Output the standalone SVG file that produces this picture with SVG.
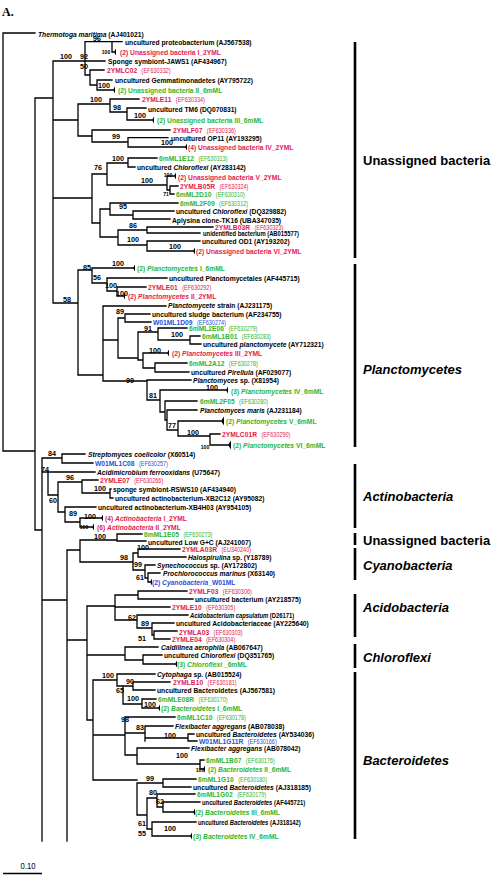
<svg xmlns="http://www.w3.org/2000/svg" width="496" height="875" viewBox="0 0 496 875">
<style>
.br{fill:none;stroke:#000;stroke-width:1.3;stroke-linecap:square}
.cl{fill:#000}
.t{font-family:"Liberation Sans",Arial,sans-serif;font-weight:bold;font-size:7.8px;fill:#000;transform:scale(.86,1)}
.s{font-size:6.8px}
.r{fill:#e31b4f}.g{fill:#2fb52f}.b{fill:#2a4fd8}
.ac{font-size:6.4px;font-weight:normal}
.i{font-style:italic}
.bs{font-family:"Liberation Sans",Arial,sans-serif;font-weight:bold;font-size:7.2px;text-anchor:middle;fill:#000}
.bss{font-size:5px}
.grp{font-family:"Liberation Sans",Arial,sans-serif;font-weight:bold;font-size:13px;fill:#000}
.bar{stroke:#000;stroke-width:2.6}
</style>
<rect width="496" height="875" fill="#fff"/>
<text x="2" y="16" font-family="Liberation Serif,serif" font-weight="bold" font-size="12">A.</text>
<g id="branches">
<path class="br" d="M3 33V451M3 33H35M3 451H35M35 98V530M35 98H53M53 61V303M35 530H42M42 458V841
M53 61H105M85 41.7V75M85 41.7H122M112 41.7V52M112 52H114M85 75H90M90 70V85M90 70H104M90 85H97M97 80V90M97 80H112M97 90H113
M53 120H78M78 104V136M78 104H110M110 99V112M110 99H139M110 112H127M127 108V120M127 108H146M127 120H152M78 136H92M92 130V142M92 130H170M92 142H128M128 137.7V147M128 137.7H168M128 147H185
M53 198H92M92 174V223M92 174H107M107 163V185M107 163H128M128 158V167M128 158H157M128 167H135M107 185H167M167 176V190M167 176H174M167 190H170M170 186V194M170 186H178M170 194H174M92 223H100M100 209V237M100 209H110M110 203V215M110 203H178M110 215H133M133 211V219M133 211H174M133 219H170M100 237H118M118 230V245M118 230H147M147 227V233M147 227H213M147 233H200M118 245H147M147 241V251M147 241H200M147 251H193
M53 303H78M78 270V375M78 270H92M92 268V283M92 268H133M92 283H107M107 278V291M107 278H167M107 291H117M117 287V296M117 287H146M117 296H123
M78 375H103M103 306V381M103 306H166M103 340H118M118 318V358M118 318H125M125 314V322M125 314H150M125 322H151M118 358H138M138 332V360M138 332H158M158 328V340M158 328H187M158 340H190M190 336V344M190 336H200M190 344H201M138 360H143M143 353V368M143 353H167M143 368H155M155 363V372M155 363H187M155 372H189
M103 381H147M147 380V400M147 380H191M147 400H160M160 390V412M160 390H226M160 412H165M165 401V420M165 401H197M165 420H167M167 410V430M167 410H197M167 430H178M178 421V436M178 421H221M178 436H210M210 434V445M210 434H220M210 445H228
M42 458H62M62 454V463M62 454H85M62 463H93M42 472H48M48 472V495M48 472H95M48 495H58M58 482V512M58 482H82M82 480V493M82 480H98M82 493H110M110 489V498M110 489H111M110 498H113M58 512H65M65 507V522M65 507H96M65 522H80M80 518V527M80 518H101M80 527H92
M42 600H67M67 550V841M67 550H80M80 540V562M80 540H117M117 534V541M117 534H142M117 541H146M80 562H133M133 553V570M133 553H138M138 549V557M138 549H180M138 557H186M133 570H145M145 565V578M145 565H155M145 578H148M148 573V582M148 573H160M148 582H150
M67 640H87M87 606V720M87 606H115M115 595V620M115 595H138M138 591V599M138 591H187M138 599H193M115 607H170M115 620H137M137 615V628M137 615H188M137 628H152M152 623V635M152 623H174M152 635H154M154 631V639M154 631H177M154 639H170
M87 655H125M125 647V660M125 647H158M125 660H143M143 655V664M143 655H162M143 664H175
M87 720H93M93 680V780M93 680H117M117 674V686M117 674H155M117 686H123M123 686V704M123 686H133M133 682V690M133 682H170M133 690H155M123 704H142M142 699V708M142 699H156M142 708H158
M93 735H125M125 717V755M125 717H175M125 733H145M145 726V741M145 726H173M145 738H188M188 734V741M188 734H194M188 741H197M125 755H137M137 748V764M137 748H189M137 764H200M200 760V769M200 760H204M200 769H203
M93 780H137M137 783V815M137 783H163M163 779V787M163 779H196M163 787H191M137 815H147M147 798V829M147 798H157M157 794V807M157 794H195M157 807H163M163 802V812M163 802H200M163 812H193M147 829H152M152 822V836M152 822H196M152 836H190"/>
<g class="cl">
<polygon points="114,52 116,48.5 116,55.5"/><polygon points="113,90 115,86.5 115,93.5"/><polygon points="152,120 154,116.5 154,123.5"/><polygon points="185,147 187,143.5 187,150.5"/><polygon points="174,176 176,172.5 176,179.5"/><polygon points="193,251 195,247.5 195,254.5"/><polygon points="133,268 135,264.5 135,271.5"/><polygon points="123,296 125,292.5 125,299.5"/><polygon points="167,353 169,349.5 169,356.5"/><polygon points="226,390 228,386.5 228,393.5"/><polygon points="221,421 224,416.5 224,425.5"/><polygon points="228,445 231,440.5 231,449.5"/><polygon points="101,518 103,514.5 103,521.5"/><polygon points="92,527 94,523.5 94,530.5"/><polygon points="150,582 152,578.5 152,585.5"/><polygon points="175,664 177,660.5 177,667.5"/><polygon points="158,708 160,704.5 160,711.5"/><polygon points="203,769 205,765.5 205,772.5"/><polygon points="193,812 195,808.5 195,815.5"/><polygon points="190,836 192,832.5 192,839.5"/>
</g>
</g>
<g id="support">
<text class="bs" x="66" y="59">100</text><text class="bs" x="97" y="40.5">96</text><text class="bs bss" x="106" y="54">100</text><text class="bs" x="84" y="59">92</text><text class="bs" x="84" y="69">50</text><text class="bs" x="104" y="88">100</text>
<text class="bs" x="96" y="102">100</text><text class="bs" x="117" y="110">98</text><text class="bs" x="140" y="118">100</text><text class="bs" x="116" y="139">99</text><text class="bs" x="167" y="145">100</text>
<text class="bs" x="118" y="161">100</text><text class="bs" x="98" y="170">76</text><text class="bs bss" x="168" y="177">100</text><text class="bs" x="147" y="183">100</text><text class="bs bss" x="166" y="196">71</text>
<text class="bs" x="123" y="209">95</text><text class="bs" x="133" y="228">86</text><text class="bs" x="133" y="242">100</text><text class="bs" x="175" y="249">100</text>
<text class="bs" x="118" y="266">100</text><text class="bs" x="87" y="270">85</text><text class="bs" x="97" y="280">56</text><text class="bs" x="111" y="288">100</text><text class="bs" x="122" y="296">100</text><text class="bs" x="67" y="302">58</text>
<text class="bs" x="120" y="314">89</text><text class="bs" x="148" y="331">91</text><text class="bs" x="177" y="337">100</text><text class="bs" x="155" y="353">100</text>
<text class="bs" x="130" y="383">99</text><text class="bs" x="212" y="390">100</text><text class="bs" x="153" y="398">81</text><text class="bs" x="172" y="428">77</text><text class="bs" x="193" y="435">100</text><text class="bs bss" x="205" y="449">100</text>
<text class="bs" x="52" y="456">84</text><text class="bs" x="45" y="472">74</text><text class="bs" x="70" y="480">96</text><text class="bs" x="100" y="491">100</text><text class="bs" x="53" y="503">60</text><text class="bs" x="73" y="516">89</text><text class="bs" x="90" y="519">100</text><text class="bs bss" x="84" y="529">100</text>
<text class="bs" x="100" y="539">100</text><text class="bs" x="143" y="550">100</text><text class="bs" x="124" y="560">98</text><text class="bs" x="138" y="567">99</text><text class="bs" x="140" y="580">61</text>
<text class="bs" x="132" y="620">62</text><text class="bs" x="145" y="626">89</text><text class="bs" x="142" y="641">51</text>
<text class="bs" x="108" y="678">100</text><text class="bs" x="130" y="684">90</text><text class="bs" x="120" y="693">65</text><text class="bs" x="133" y="701">100</text><text class="bs" x="150" y="707">100</text>
<text class="bs" x="125" y="722">98</text><text class="bs" x="140" y="730">83</text><text class="bs" x="170" y="738">100</text><text class="bs" x="182" y="758">100</text><text class="bs bss" x="200" y="772">100</text>
<text class="bs" x="150" y="781">99</text><text class="bs" x="153" y="795">80</text><text class="bs" x="160" y="804">62</text><text class="bs" x="142" y="826">61</text><text class="bs" x="142" y="836">55</text><text class="bs" x="170" y="831">100</text>
</g>
<g id="leaves">
<g id="L1" transform="translate(38,36.5)"><text class="t"><tspan class="i">Thermotoga maritima</tspan> (AJ401021)</text></g>
<g id="L2" transform="translate(125,44.7)"><text class="t">uncultured proteobacterium (AJ567538)</text></g>
<g id="L3" transform="translate(120,55)"><text class="t r">(2) Unassigned bacteria I_2YML</text></g>
<g id="L4" transform="translate(108,64)"><text class="t">Sponge symbiont-JAWS1 (AF434967)</text></g>
<g id="L5" transform="translate(107,73)"><text class="t r">2YMLC02 <tspan class="ac" dx="3">(EF630332)</tspan></text></g>
<g id="L6" transform="translate(115,83)"><text class="t">uncultured Gemmatimonadetes (AY795722)</text></g>
<g id="L7" transform="translate(118,93)"><text class="t g">(2) Unassigned bacteria II_6mML</text></g>
<g id="L8" transform="translate(142,102)"><text class="t r">2YMLE11 <tspan class="ac" dx="3">(EF630334)</tspan></text></g>
<g id="L9" transform="translate(148,111.5)"><text class="t">uncultured TM6 (DQ070831)</text></g>
<g id="L10" transform="translate(157,122.5)"><text class="t g">(2) Unassigned bacteria III_6mML</text></g>
<g id="L11" transform="translate(173,133)"><text class="t r">2YMLF07 <tspan class="ac" dx="3">(EF630336)</tspan></text></g>
<g id="L12" transform="translate(171,140.7)"><text class="t">uncultured OP11 (AY193295)</text></g>
<g id="L13" transform="translate(188,150)"><text class="t r">(4) Unassigned bacteria IV_2YML</text></g>
<g id="L14" transform="translate(159,161)"><text class="t g">6mML1E12 <tspan class="ac" dx="3">(EF630313)</tspan></text></g>
<g id="L15" transform="translate(137,169.7)"><text class="t">uncultured <tspan class="i">Chloroflexi</tspan> (AY283142)</text></g>
<g id="L16" transform="translate(178,179.7)"><text class="t r">(2) Unassigned bacteria V_2YML</text></g>
<g id="L17" transform="translate(180,189)"><text class="t r">2YMLB05R <tspan class="ac" dx="3">(EF630324)</tspan></text></g>
<g id="L18" transform="translate(176,197)"><text class="t g">6mML2D10 <tspan class="ac" dx="3">(EF630310)</tspan></text></g>
<g id="L19" transform="translate(180,206)"><text class="t g">6mML2F09 <tspan class="ac" dx="3">(EF630312)</tspan></text></g>
<g id="L20" transform="translate(176,214)"><text class="t">uncultured <tspan class="i">Chloroflexi</tspan> (DQ329882)</text></g>
<g id="L21" transform="translate(172,222.5)"><text class="t">Aplysina clone-TK16 (UBA347035)</text></g>
<g id="L22" transform="translate(215,230)"><text class="t r">2YMLB03R <tspan class="ac" dx="3">(EF630323)</tspan></text></g>
<g id="L23" transform="translate(203,236)"><text class="t s">unidentified bacterium (AB015577)</text></g>
<g id="L24" transform="translate(202,244)"><text class="t">uncultured OD1 (AY193202)</text></g>
<g id="L25" transform="translate(196,254)"><text class="t r">(2) Unassigned bacteria VI_2YML</text></g>
<g id="L26" transform="translate(137,270.7)"><text class="t g">(2) <tspan class="i">Planctomycetes</tspan> I_6mML</text></g>
<g id="L27" transform="translate(169,280.7)"><text class="t">uncultured Planctomycetales (AF445715)</text></g>
<g id="L28" transform="translate(148,289.7)"><text class="t r">2YMLE01 <tspan class="ac" dx="3">(EF630292)</tspan></text></g>
<g id="L29" transform="translate(128,299)"><text class="t r">(2) <tspan class="i">Planctomycetes</tspan> II_2YML</text></g>
<g id="L30" transform="translate(168,308)"><text class="t"><tspan class="i">Planctomycete</tspan> strain (AJ231175)</text></g>
<g id="L31" transform="translate(152,317)"><text class="t">uncultured sludge bacterium (AF234755)</text></g>
<g id="L32" transform="translate(153,324.7)"><text class="t b">W01ML1D09 <tspan class="ac" dx="3">(EF630274)</tspan></text></g>
<g id="L33" transform="translate(189,331)"><text class="t g">6mML2E06 <tspan class="ac" dx="3">(EF630279)</tspan></text></g>
<g id="L34" transform="translate(202,339)"><text class="t g">6mML1B01 <tspan class="ac" dx="3">(EF630283)</tspan></text></g>
<g id="L35" transform="translate(203,347)"><text class="t">uncultured <tspan class="i">planctomycete</tspan> (AY712321)</text></g>
<g id="L36" transform="translate(172,356)"><text class="t r">(2) <tspan class="i">Planctomycetes</tspan> III_2YML</text></g>
<g id="L37" transform="translate(189,366)"><text class="t g">6mML2A12 <tspan class="ac" dx="3">(EF630278)</tspan></text></g>
<g id="L38" transform="translate(191,374.7)"><text class="t">uncultured <tspan class="i">Pirellula</tspan> (AF029077)</text></g>
<g id="L39" transform="translate(193,383)"><text class="t"><tspan class="i">Planctomyces</tspan> sp. (X81954)</text></g>
<g id="L40" transform="translate(231,393.7)"><text class="t g">(3) <tspan class="i">Planctomycetes</tspan> IV_6mML</text></g>
<g id="L41" transform="translate(200,404)"><text class="t g">6mML2F05 <tspan class="ac" dx="3">(EF630280)</tspan></text></g>
<g id="L42" transform="translate(200,413)"><text class="t"><tspan class="i">Planctomyces maris</tspan> (AJ231184)</text></g>
<g id="L43" transform="translate(226,423.7)"><text class="t g">(2) <tspan class="i">Planctomycetes</tspan> V_6mML</text></g>
<g id="L44" transform="translate(222,437)"><text class="t r">2YMLC01R <tspan class="ac" dx="3">(EF630290)</tspan></text></g>
<g id="L45" transform="translate(233,448)"><text class="t g">(2) <tspan class="i">Planctomycetes</tspan> VI_6mML</text></g>
<g id="L46" transform="translate(88,457)"><text class="t"><tspan class="i">Streptomyces coelicolor</tspan> (X60514)</text></g>
<g id="L47" transform="translate(95,465.7)"><text class="t b">W01ML1C08 <tspan class="ac" dx="3">(EF630257)</tspan></text></g>
<g id="L48" transform="translate(97,474.7)"><text class="t"><tspan class="i">Acidimicrobium ferrooxidans</tspan> (U75647)</text></g>
<g id="L49" transform="translate(100,483)"><text class="t r">2YMLE07 <tspan class="ac" dx="3">(EF630266)</tspan></text></g>
<g id="L50" transform="translate(113,492)"><text class="t">sponge symbiont-RSWS10 (AF434940)</text></g>
<g id="L51" transform="translate(115,501)"><text class="t">uncultured actinobacterium-XB2C12 (AY95082)</text></g>
<g id="L52" transform="translate(98,510)"><text class="t">uncultured actinobacterium-XB4H03 (AY954105)</text></g>
<g id="L53" transform="translate(105,521)"><text class="t r">(4) <tspan class="i">Actinobacteria</tspan> I_2YML</text></g>
<g id="L54" transform="translate(97,530)"><text class="t r">(6) <tspan class="i">Actinobacteria</tspan> II_2YML</text></g>
<g id="L55" transform="translate(144,537)"><text class="t g">6mML1E05 <tspan class="ac" dx="3">(EF630273)</tspan></text></g>
<g id="L56" transform="translate(148,544.7)"><text class="t">uncultured Low G+C (AJ241007)</text></g>
<g id="L57" transform="translate(182,552)"><text class="t r">2YMLA03R <tspan class="ac" dx="3">(EU340240)</tspan></text></g>
<g id="L58" transform="translate(188,560)"><text class="t"><tspan class="i">Halospirulina</tspan> sp. (Y18789)</text></g>
<g id="L59" transform="translate(157,568)"><text class="t"><tspan class="i">Synechococcus</tspan> sp. (AY172802)</text></g>
<g id="L60" transform="translate(163,576)"><text class="t"><tspan class="i">Prochlorococcus marinus</tspan> (X63140)</text></g>
<g id="L61" transform="translate(152,585)"><text class="t b">(2) <tspan class="i">Cyanobacteria</tspan>_W01ML</text></g>
<g id="L62" transform="translate(189,594)"><text class="t r">2YMLF03 <tspan class="ac" dx="3">(EF630306)</tspan></text></g>
<g id="L63" transform="translate(195,602)"><text class="t">uncultured bacterium (AY218575)</text></g>
<g id="L64" transform="translate(172,610)"><text class="t r">2YMLE10 <tspan class="ac" dx="3">(EF630305)</tspan></text></g>
<g id="L65" transform="translate(190,618)"><text class="t s"><tspan class="i">Acidobacterium capsulatum</tspan> (D26171)</text></g>
<g id="L66" transform="translate(176,626)"><text class="t">uncultured Acidobacteriaceae (AY225640)</text></g>
<g id="L67" transform="translate(179,634.7)"><text class="t r">2YMLA03 <tspan class="ac" dx="3">(EF630303)</tspan></text></g>
<g id="L68" transform="translate(172,642)"><text class="t r">2YMLE04 <tspan class="ac" dx="3">(EF630304)</tspan></text></g>
<g id="L69" transform="translate(161,649.7)"><text class="t"><tspan class="i">Caldilinea aerophila</tspan> (AB067647)</text></g>
<g id="L70" transform="translate(164,658)"><text class="t">uncultured <tspan class="i">Chloroflexi</tspan> (DQ351765)</text></g>
<g id="L71" transform="translate(177,667)"><text class="t g">(3) <tspan class="i">Chloroflexi</tspan> _6mML</text></g>
<g id="L72" transform="translate(157,677)"><text class="t"><tspan class="i">Cytophaga</tspan> sp. (AB015524)</text></g>
<g id="L73" transform="translate(173,685)"><text class="t r">2YMLB10 <tspan class="ac" dx="3">(EF630181)</tspan></text></g>
<g id="L74" transform="translate(157,693)"><text class="t">uncultured Bacteroidetes (AJ567581)</text></g>
<g id="L75" transform="translate(158,702)"><text class="t g">6mMLE08R <tspan class="ac" dx="3">(EF630170)</tspan></text></g>
<g id="L76" transform="translate(161,711)"><text class="t g">(2) <tspan class="i">Bacteroidetes</tspan> I_6mML</text></g>
<g id="L77" transform="translate(177,720)"><text class="t g">6mML1C10 <tspan class="ac" dx="3">(EF630178)</tspan></text></g>
<g id="L78" transform="translate(175,729)"><text class="t"><tspan class="i">Flexibacter aggregans</tspan> (AB078038)</text></g>
<g id="L79" transform="translate(196,737)"><text class="t">uncultured <tspan class="i">Bacteroidetes</tspan> (AY534036)</text></g>
<g id="L80" transform="translate(199,744)"><text class="t b">W01ML1G11R <tspan class="ac" dx="3">(EF630166)</tspan></text></g>
<g id="L81" transform="translate(191,751)"><text class="t"><tspan class="i">Flexibacter aggregans</tspan> (AB078042)</text></g>
<g id="L82" transform="translate(206,763)"><text class="t g">6mML1B07 <tspan class="ac" dx="3">(EF630176)</tspan></text></g>
<g id="L83" transform="translate(208,772)"><text class="t g">(2) <tspan class="i">Bacteroidetes</tspan> II_6mML</text></g>
<g id="L84" transform="translate(198,782)"><text class="t g">6mML1G10 <tspan class="ac" dx="3">(EF630180)</tspan></text></g>
<g id="L85" transform="translate(193,789.7)"><text class="t">uncultured <tspan class="i">Bacteroidetes</tspan> (AJ318185)</text></g>
<g id="L86" transform="translate(197,797)"><text class="t g">6mML1G02 <tspan class="ac" dx="3">(EF630179)</tspan></text></g>
<g id="L87" transform="translate(202,805)"><text class="t s">uncultured <tspan class="i">Bacteroidetes</tspan> (AF445721)</text></g>
<g id="L88" transform="translate(195,815)"><text class="t g">(2) <tspan class="i">Bacteroidetes</tspan> III_6mML</text></g>
<g id="L89" transform="translate(198,825)"><text class="t s">uncultured <tspan class="i">Bacteroidetes</tspan> (AJ318142)</text></g>
<g id="L90" transform="translate(193,839)"><text class="t g">(3) <tspan class="i">Bacteroidetes</tspan> IV_6mML</text></g>
</g>
<g id="clades">
<line class="bar" x1="355" y1="42" x2="355" y2="258"/><text class="grp" x="363" y="165">Unassigned bacteria</text>
<line class="bar" x1="355" y1="264" x2="355" y2="447"/><text class="grp i" x="363" y="374">Planctomycetes</text>
<line class="bar" x1="355" y1="464" x2="355" y2="528"/><text class="grp i" x="363" y="501">Actinobacteria</text>
<line class="bar" x1="355" y1="533" x2="355" y2="545"/><text class="grp" x="363" y="545">Unassigned bacteria</text>
<line class="bar" x1="355" y1="548" x2="355" y2="580"/><text class="grp i" x="363" y="570">Cyanobacteria</text>
<line class="bar" x1="355" y1="594" x2="355" y2="637"/><text class="grp i" x="363" y="612">Acidobacteria</text>
<line class="bar" x1="355" y1="644" x2="355" y2="668"/><text class="grp i" x="363" y="662">Chloroflexi</text>
<line class="bar" x1="355" y1="672" x2="355" y2="839"/><text class="grp i" x="363" y="765">Bacteroidetes</text>
</g>
<g id="scale">
<text x="28" y="869" font-family="Liberation Sans,Arial,sans-serif" font-size="9" text-anchor="middle" transform="translate(28,0) scale(.85,1) translate(-28,0)">0.10</text>
<line x1="3" y1="873.5" x2="42" y2="873.5" stroke="#000" stroke-width="1.3"/>
</g>
</svg>
